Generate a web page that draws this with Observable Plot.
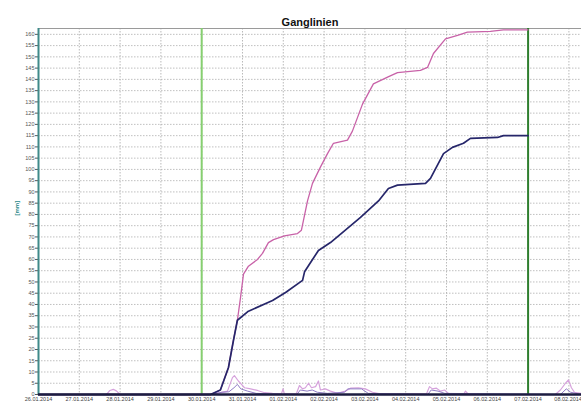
<!DOCTYPE html>
<html>
<head>
<meta charset="utf-8">
<script src="https://cdn.jsdelivr.net/npm/d3@7"></script>
<script src="https://cdn.jsdelivr.net/npm/@observablehq/plot@0.6"></script>
<style>
  html, body { margin: 0; padding: 0; background: #fff; }
  #chart svg { display: block; font-family: "Liberation Sans", Arial, sans-serif; }
</style>
</head>
<body>
<div id="chart"></div>
<script>
const title = "Ganglinien";
const yLabel = "[mm]";
const xDomain = ["2014-01-26T00:00Z", "2014-02-08T07:25Z"];
const yDomain = [0, 162.6];
const xTicks = ["2014-01-26","2014-01-27","2014-01-28","2014-01-29","2014-01-30","2014-01-31",
  "2014-02-01","2014-02-02","2014-02-03","2014-02-04","2014-02-05","2014-02-06","2014-02-07","2014-02-08"];
const yTicks = [0,5,10,15,20,25,30,35,40,45,50,55,60,65,70,75,80,85,90,95,100,105,110,115,120,125,130,135,140,145,150,155,160];
const markerDates = ["2014-01-30T00:00Z", "2014-02-07T00:00Z"];

// cumulative line 1 (pink)
const pinkTimes = ["2014-01-26T00:00","2014-01-30T05:10","2014-01-30T11:00","2014-01-30T15:45","2014-01-30T18:40","2014-01-30T21:00",
  "2014-01-30T22:50","2014-01-31T00:35","2014-01-31T03:30","2014-01-31T08:50","2014-01-31T11:45","2014-01-31T15:15","2014-01-31T18:15",
  "2014-02-01T00:40","2014-02-01T08:20","2014-02-01T10:40","2014-02-01T14:15","2014-02-01T17:10","2014-02-01T21:50","2014-02-02T02:00",
  "2014-02-02T05:30","2014-02-02T13:45","2014-02-02T16:40","2014-02-02T22:35","2014-02-03T05:00","2014-02-03T13:20","2014-02-03T19:10",
  "2014-02-04T08:40","2014-02-04T12:50","2014-02-04T16:20","2014-02-04T23:25","2014-02-05T06:30","2014-02-05T12:20","2014-02-06T01:50",
  "2014-02-06T09:30","2014-02-07T00:00"];
const pinkValues = [0,0,2,12,24,33,43,53.5,57,60,62.7,67.5,68.8,70.5,71.5,73,86,93.8,101,107,111.6,113,117,129,138,141,143,
  144,145.3,151.5,158,159.5,161,161.3,162,162];

// cumulative line 2 (dark blue)
const blueTimes = ["2014-01-26T00:00","2014-01-30T05:10","2014-01-30T11:00","2014-01-30T15:45","2014-01-30T18:40","2014-01-30T21:00",
  "2014-01-31T03:30","2014-01-31T17:40","2014-02-01T01:20","2014-02-01T11:20","2014-02-01T12:30","2014-02-01T20:40","2014-02-02T03:45",
  "2014-02-02T21:25","2014-02-03T08:00","2014-02-03T13:50","2014-02-03T19:10","2014-02-04T11:40","2014-02-04T14:35","2014-02-04T22:15",
  "2014-02-05T03:30","2014-02-05T10:00","2014-02-05T14:05","2014-02-06T06:00","2014-02-06T09:30","2014-02-07T00:00"];
const blueValues = [0,0,2,12,24,33,37,41.8,45.3,50.7,54.5,64,67.5,78.7,86,91.5,93,93.8,96,107,109.8,111.6,113.8,114.2,115,115];

// intensity series (light pink)
const rainTimes = ["2014-01-26T00:00","2014-01-27T16:00","2014-01-27T18:00","2014-01-27T20:00","2014-01-27T22:00","2014-01-28T00:00",
  "2014-01-30T05:00","2014-01-30T11:00","2014-01-30T15:10","2014-01-30T18:05","2014-01-30T19:15","2014-01-30T21:35","2014-01-30T23:25",
  "2014-01-31T01:10","2014-01-31T04:05","2014-01-31T08:50","2014-01-31T13:00","2014-01-31T17:40","2014-01-31T22:55","2014-01-31T23:50",
  "2014-02-01T00:40","2014-02-01T07:40","2014-02-01T09:30","2014-02-01T11:20","2014-02-01T13:00","2014-02-01T14:50","2014-02-01T16:35",
  "2014-02-01T19:00","2014-02-01T20:40","2014-02-01T21:50","2014-02-02T00:45","2014-02-02T03:45","2014-02-02T07:55","2014-02-02T12:30",
  "2014-02-02T15:30","2014-02-02T20:10","2014-02-03T00:15","2014-02-03T04:30","2014-02-03T09:00","2014-02-04T12:15","2014-02-04T14:00",
  "2014-02-04T15:45","2014-02-04T18:05","2014-02-04T20:30","2014-02-04T22:50","2014-02-05T01:10","2014-02-05T10:00","2014-02-05T11:10",
  "2014-02-05T13:00","2014-02-07T16:00","2014-02-07T19:00","2014-02-07T22:00","2014-02-07T23:45","2014-02-08T01:30","2014-02-08T03:15",
  "2014-02-08T07:25"];
const rainValues = [0,0,1.8,2.3,1.5,0,0,0.8,1.5,7.5,8.4,6,4.5,3,2.6,1.8,0.8,0.5,0.3,2.5,0.3,0.3,4,2.5,3,5,3,3.5,6,2,2.5,1.5,0.5,1.5,
  2.8,3,2.5,1,0.3,0.3,3.5,2.5,2.8,1.5,2,0.5,0,1.5,0,0,2,5,6.5,3,1,0.5];

// intensity series (purple)
const rain2Times = ["2014-01-26T00:00","2014-01-30T05:00","2014-01-30T12:00","2014-01-30T16:00","2014-01-30T19:00","2014-01-30T21:00",
  "2014-01-30T23:00","2014-01-31T03:00","2014-01-31T08:00","2014-02-01T08:00","2014-02-01T10:00","2014-02-01T14:00","2014-02-01T17:00",
  "2014-02-01T20:00","2014-02-02T02:00","2014-02-02T12:00","2014-02-02T14:00","2014-02-02T22:00","2014-02-03T02:00","2014-02-04T13:00",
  "2014-02-04T15:00","2014-02-04T19:00","2014-02-04T23:00","2014-02-07T19:00","2014-02-07T22:30","2014-02-08T01:00","2014-02-08T07:25"];
const rain2Values = [0,0,1,1.2,3,4.5,2.5,1.5,0.5,0,2,1.5,2,1,0.5,1,2.5,2.5,0.5,0,2,1.5,0.5,0,2.5,1,0];

const toRows = (times, values) => times.map((t, i) => ({date: new Date(t.endsWith("Z") ? t : t + "Z"), value: values[i]}));
const pink = toRows(pinkTimes, pinkValues);
const blue = toRows(blueTimes, blueValues);
const rain = toRows(rainTimes, rainValues);
const rain2 = toRows(rain2Times, rain2Values);
const xTickDates = xTicks.map(d => new Date(d + "T00:00Z"));
const innerTicks = xTickDates.slice(0, -1);
const lastTick = xTickDates.slice(-1);
const markers = markerDates.map(d => new Date(d));
const fmt = d3.utcFormat("%d.%m.%Y");

const chart = Plot.plot({
  width: 581,
  height: 403,
  marginLeft: 38,
  marginTop: 28,
  marginBottom: 9,
  marginRight: 0,
  style: {fontFamily: "Liberation Sans, Arial, sans-serif", background: "#fff"},
  x: {type: "utc", domain: xDomain.map(d => new Date(d))},
  y: {domain: yDomain},
  marks: [
    Plot.gridY(yTicks, {stroke: "#b0b0b0", strokeOpacity: 1, strokeDasharray: "1.5,1.5", strokeWidth: 0.8}),
    Plot.gridX(xTickDates, {stroke: "#a8a8a8", strokeOpacity: 1, strokeDasharray: "1.5,1.5", strokeWidth: 0.8}),
    Plot.frame({anchor: "top", stroke: "#9a9a9a"}),
    Plot.ruleX([markers[0]], {stroke: "#86cf70", strokeWidth: 2}),
    Plot.ruleX([markers[1]], {stroke: "#2f7f2f", strokeWidth: 2}),
    Plot.line(rain, {x: "date", y: "value", stroke: "#d6a2dc", strokeWidth: 1.2}),
    Plot.line(rain2, {x: "date", y: "value", stroke: "#8f7cc4", strokeWidth: 1}),
    Plot.line(pink, {x: "date", y: "value", stroke: "#c862a8", strokeWidth: 1.3}),
    Plot.line(blue, {x: "date", y: "value", stroke: "#26266a", strokeWidth: 1.7}),
    Plot.axisY({ticks: yTicks, tickSize: 3, tickPadding: 1, fontSize: 5.5, color: "#555", label: null}),
    Plot.axisX({ticks: innerTicks, tickFormat: fmt, tickSize: 0, tickPadding: 3, fontSize: 5.5, color: "#444", label: null}),
    Plot.axisX({ticks: lastTick, tickFormat: fmt, tickSize: 0, tickPadding: 3, fontSize: 5.5, color: "#444", label: null, textAnchor: "end", dx: 13}),
    Plot.ruleX([new Date(xDomain[0])], {stroke: "#3f8a8a", strokeWidth: 2}),
    Plot.ruleY([0], {stroke: "#1c1c40", strokeWidth: 2.5}),
    Plot.text([title], {frameAnchor: "top", dy: -10, fontSize: 11, fontWeight: "bold", fill: "#111"}),
    Plot.text([yLabel], {frameAnchor: "left", dx: -21, dy: 4, rotate: -90, fontSize: 6, fontWeight: "bold", fill: "#2a8a8a"})
  ]
});
document.getElementById("chart").append(chart);
</script>
</body>
</html>
